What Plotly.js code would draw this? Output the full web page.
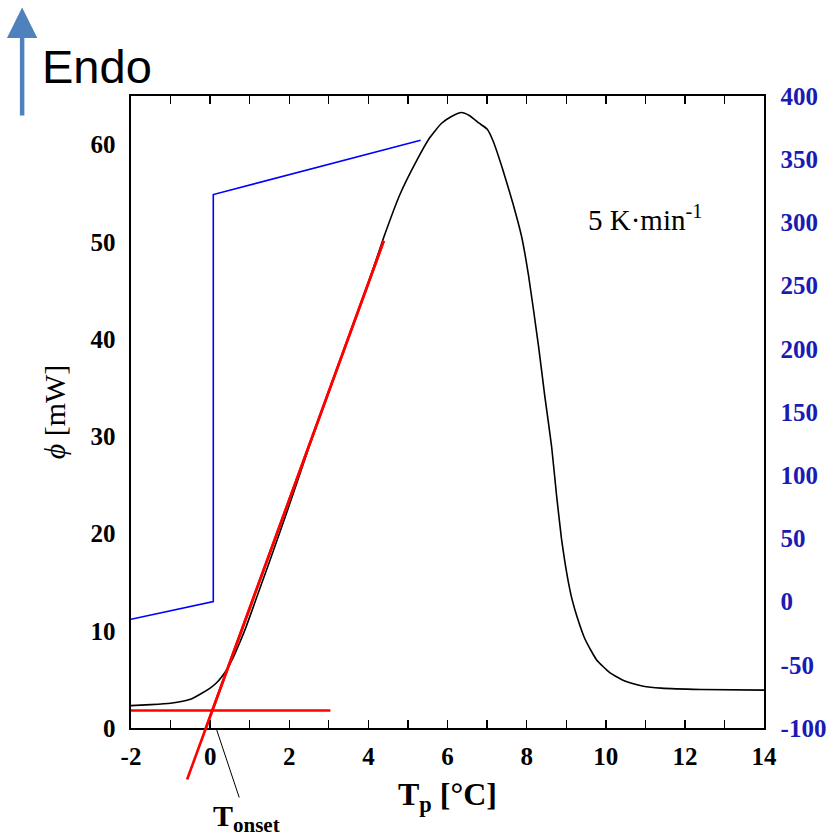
<!DOCTYPE html>
<html>
<head>
<meta charset="utf-8">
<script src="https://cdn.plot.ly/plotly-3.0.1.min.js"></script>
<style>html,body{margin:0;padding:0;background:#fff;}#chart{width:828px;height:839px;}</style>
</head>
<body>
<div id="chart"></div>
<script>
// DSC heat flow curve (left axis, mW)
const dscT = [-2, -1.5, -1.0, -0.5, -0.2, 0.0, 0.15, 0.3, 0.45, 0.6, 0.75, 0.9, 1.2, 1.5, 2.0, 2.5, 3.0, 3.5, 4.0, 4.4, 4.8, 5.2, 5.55, 5.85, 6.1, 6.35, 6.55, 6.8, 7.0, 7.15, 7.4, 7.65, 7.87, 8.05, 8.3, 8.46, 8.63, 8.76, 8.88, 8.97, 9.06, 9.15, 9.27, 9.48, 9.77, 10.1, 10.5, 10.95, 11.4, 12.4, 14.0];
const dscPhi = [2.3, 2.4, 2.55, 2.95, 3.6, 4.1, 4.6, 5.3, 6.2, 7.4, 8.8, 10.3, 13.7, 17.1, 22.9, 28.9, 34.6, 40.2, 45.8, 50.6, 54.9, 58.2, 60.7, 62.2, 62.9, 63.3, 63.0, 62.2, 61.6, 60.4, 57.4, 54.0, 50.6, 46.5, 39.3, 34.1, 29.0, 23.8, 19.5, 17.0, 14.9, 13.2, 11.5, 9.1, 7.0, 5.7, 4.8, 4.3, 4.1, 3.96, 3.9];
// Temperature program (right axis)
const progT = [-2, 0.08, 0.08, 5.32];
const progVal = [-14, 0, 322, 365];
// Baseline and inflection tangent (left axis)
const baseT = [-2, 3.04];
const basePhi = [1.8, 1.8];
const tanT = [-0.6, 4.39];
const tanPhi = [-5.5, 50.1];
// onset point
const onsetT = 0.15;
const onsetPhi = 0;
// ticks and tick labels
const xTicks = [-2, 0, 2, 4, 6, 8, 10, 12, 14];
const xTickText = ['-2', '0', '2', '4', '6', '8', '10', '12', '14'];
const yTicks = [0, 10, 20, 30, 40, 50, 60];
const yTickText = ['0', '10', '20', '30', '40', '50', '60'];
const y2Ticks = [-100, -50, 0, 50, 100, 150, 200, 250, 300, 350, 400];
const y2TickText = ['-100', '-50', '0', '50', '100', '150', '200', '250', '300', '350', '400'];

const serif = 'Liberation Serif, Times New Roman, serif';
const tickFont = {family: serif, size: 25, weight: 'bold', color: '#000'};

const traces = [
  {x: progT, y: progVal, yaxis: 'y2', mode: 'lines', line: {color: '#0000ff', width: 1.6}, showlegend: false, hoverinfo: 'skip'},
  {x: dscT, y: dscPhi, mode: 'lines', line: {color: '#000', width: 1.6, shape: 'spline', smoothing: 0.5}, showlegend: false, hoverinfo: 'skip'},
  {x: baseT, y: basePhi, mode: 'lines', line: {color: '#ff0000', width: 2.6}, showlegend: false, hoverinfo: 'skip'},
  {x: tanT, y: tanPhi, mode: 'lines', line: {color: '#ff0000', width: 2.6}, showlegend: false, hoverinfo: 'skip'}
];

const layout = {
  width: 828, height: 839,
  margin: {l: 131, r: 64, t: 96, b: 111},
  paper_bgcolor: '#fff', plot_bgcolor: '#fff',
  showlegend: false,
  xaxis: {
    range: [-2, 14], tickmode: 'array', tickvals: xTicks, ticktext: xTickText,
    ticks: 'inside', ticklen: 8, tickwidth: 1.5, tickcolor: '#000',
    minor: {dtick: 1, tick0: -2, ticks: 'inside', ticklen: 5, tickwidth: 1.2, tickcolor: '#000'},
    showline: true, linewidth: 1.6, linecolor: '#000', mirror: 'allticks',
    showgrid: false, zeroline: false, tickfont: tickFont, ticklabelstandoff: 5,
    title: {text: 'T<sub>p</sub> [°C]', font: {family: serif, size: 32, weight: 'bold', color: '#000'}, standoff: 14}
  },
  yaxis: {
    range: [0, 65], tickmode: 'array', tickvals: yTicks, ticktext: yTickText, ticks: '',
    showline: true, linewidth: 1.6, linecolor: '#000',
    showgrid: false, zeroline: false, tickfont: tickFont, ticklabelstandoff: 9,
    title: {text: '<i>ϕ</i> [mW]', font: {family: serif, size: 30, color: '#000'}, standoff: 16}
  },
  yaxis2: {
    overlaying: 'y', side: 'right',
    range: [-100, 400], tickmode: 'array', tickvals: y2Ticks, ticktext: y2TickText, ticks: '',
    showline: true, linewidth: 1.6, linecolor: '#000',
    showgrid: false, zeroline: false, ticklabelstandoff: 10,
    tickfont: {family: serif, size: 25, weight: 'bold', color: '#1a1ab4'}
  },
  annotations: [
    {xref: 'x', yref: 'y', axref: 'x', ayref: 'y', x: tanT[1], y: tanPhi[1], ax: tanT[0], ay: tanPhi[0],
     text: '.', font: {size: 1, color: 'rgba(0,0,0,0)'}, showarrow: true, arrowhead: 0, arrowwidth: 2.6, arrowcolor: '#ff0000', standoff: 0, startstandoff: 0},
    {xref: 'x', yref: 'y', x: onsetT, y: onsetPhi, ax: 30, ay: 90,
     text: 'T<sub>onset</sub>', font: {family: serif, size: 30, weight: 'bold', color: '#000'},
     showarrow: true, arrowhead: 0, arrowwidth: 1, arrowcolor: '#000', standoff: 0},
    {xref: 'x', yref: 'y', x: 11.0, y: 52.5, text: '5 K·min<sup>-1</sup>', showarrow: false,
     font: {family: serif, size: 29, color: '#000'}, xanchor: 'center', yanchor: 'middle'},
    {xref: 'paper', yref: 'paper', x: -0.054, y: 1.047, text: 'Endo', showarrow: false,
     font: {family: 'Liberation Sans, Arial, sans-serif', size: 47, color: '#000'}, xanchor: 'center', yanchor: 'middle'},
    {xref: 'paper', yref: 'paper', x: -0.172, y: 1.14, ax: 0, ay: 110, text: '.', font: {size: 1, color: 'rgba(0,0,0,0)'},
     showarrow: true, arrowhead: 2, arrowsize: 1.35, arrowwidth: 4.5, arrowcolor: '#4f81bd', standoff: 0}
  ]
};

Plotly.newPlot('chart', traces, layout, {displayModeBar: false, staticPlot: true});
</script>
</body>
</html>
